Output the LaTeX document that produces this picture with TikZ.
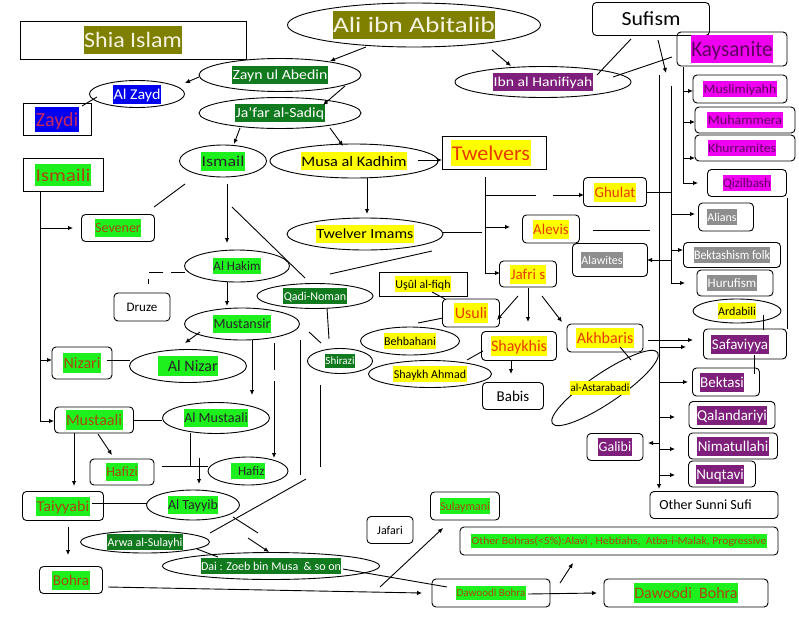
\documentclass[tikz,border=0pt]{standalone}
\usepackage{fontspec}
\usepackage{graphicx}
\setmainfont{Carlito}
\usetikzlibrary{shapes.geometric,arrows.meta}
\definecolor{olv}{HTML}{808000}
\definecolor{olvtx}{HTML}{F4F2E2}
\definecolor{dgr}{HTML}{127A1E}
\definecolor{lime}{HTML}{1EF01E}
\definecolor{brn}{HTML}{A8480E}
\definecolor{ylw}{HTML}{FFFF00}
\definecolor{rdt}{HTML}{E83A00}
\definecolor{prp}{HTML}{7E1F7C}
\definecolor{mgn}{HTML}{F000F0}
\definecolor{dpr}{HTML}{5E0060}
\definecolor{gry}{HTML}{8E8E8E}
\definecolor{blu}{HTML}{0000F0}
\definecolor{crm}{HTML}{C82860}
\newcommand{\hlt}[5][1]{{\fontsize{#2}{#2}\selectfont\setlength{\fboxsep}{0.5pt}\colorbox{#3}{\color{#4}\rule[-0.25em]{0pt}{1.2em}\scalebox{#1}[1]{#5}}}}
\newcommand{\OL}[3][1]{\hlt[#1]{#2}{olv}{olvtx}{#3}}
\newcommand{\DG}[3][1]{\hlt[#1]{#2}{dgr}{white}{#3}}
\newcommand{\BL}[3][1]{\hlt[#1]{#2}{blu}{white}{#3}}
\newcommand{\ZY}[3][1]{\hlt[#1]{#2}{blu}{crm}{#3}}
\newcommand{\LG}[3][1]{\hlt[#1]{#2}{lime}{black!85}{#3}}
\newcommand{\LB}[3][1]{\hlt[#1]{#2}{lime}{brn}{#3}}
\newcommand{\YB}[3][1]{\hlt[#1]{#2}{ylw}{black}{#3}}
\newcommand{\YR}[3][1]{\hlt[#1]{#2}{ylw}{rdt}{#3}}
\newcommand{\PW}[3][1]{\hlt[#1]{#2}{prp}{white}{#3}}
\newcommand{\MG}[3][1]{\hlt[#1]{#2}{mgn}{dpr}{#3}}
\newcommand{\GW}[3][1]{\hlt[#1]{#2}{gry}{white}{#3}}
\newcommand{\PL}[3][1]{{\fontsize{#2}{#2}\selectfont\scalebox{#1}[1]{#3}}}
\newcommand{\gap}[1]{\hspace*{#1}\null}
\begin{document}
\begin{tikzpicture}[x=1pt,y=-1pt,
  every path/.style={line width=0.9pt},
  rbox/.style={draw, rounded corners=4pt, inner sep=0pt, line width=0.9pt},
  sbox/.style={draw, inner sep=0pt, line width=0.9pt},
  ell/.style={draw, ellipse, inner sep=0pt, line width=0.9pt},
  ar/.style={-{Latex[length=5pt,width=4.5pt]}},
  dsh/.style={dash pattern=on 14pt off 8pt}]
\path[use as bounding box, fill=white] (0,0) rectangle (799,618);
% ---------- top ----------
\node[sbox, minimum width=226pt, minimum height=38pt] (shia) at (133,40) {\OL[1.09]{22}{Shia Islam}};
\node[ell, minimum width=253pt, minimum height=44pt] (ali) at (414,25) {\OL[1.25]{22}{Ali ibn Abitalib}};
\node[rbox, minimum width=117pt, minimum height=33pt] (sufism) at (651,19) {\PL[1.09]{20}{Sufism}};
\node[rbox, minimum width=110pt, minimum height=34pt] (kays) at (732,49) {\MG[0.96]{22}{Kaysanite}};
\node[ell, minimum width=176pt, minimum height=31pt] (hanif) at (543,82) {\PW[1.16]{13.5}{Ibn al Hanifiyah}};
\node[ell, minimum width=162pt, minimum height=33pt] (zayn) at (280,75) {\DG[1.13]{14}{Zayn ul Abedin}};
\node[ell, minimum width=95pt, minimum height=27pt] (alzayd) at (137,94) {\BL[1.07]{15}{Al Zayd}};
\node[sbox, minimum width=68pt, minimum height=32pt] (zaydi) at (57,119) {\ZY{20}{Zaydi}};
\node[ell, minimum width=162pt, minimum height=31pt] (jafar) at (280,113) {\DG[1.12]{14}{Ja'far al-Sadiq}};
\node[ell, minimum width=87pt, minimum height=32pt] (ismail) at (223,161) {\LG[1.2]{15}{Ismail}};
\node[ell, minimum width=168pt, minimum height=34pt] (musa) at (354,161) {\YB[1.12]{14.5}{Musa al Kadhim}};
\node[sbox, minimum width=104pt, minimum height=33pt] (twelvers) at (494,153) {\YR[1.05]{21}{Twelvers}\gap{6pt}};
\node[sbox, minimum width=80pt, minimum height=33pt] (ismaili) at (63,175) {\LB[1.17]{18}{Ismaili}};
\node[rbox, minimum width=73pt, minimum height=27pt] (sevener) at (118,228) {\LB{14}{Sevener}};
\node[ell, minimum width=156pt, minimum height=32pt] (ti) at (365,234) {\YB[1.13]{14}{Twelver Imams}};
% ---------- Ismaili middle ----------
\node[ell, minimum width=105pt, minimum height=32pt] (alhakim) at (237,266) {\LG{13}{Al Hakim}};
\node[rbox, minimum width=56pt, minimum height=28pt] (druze) at (142,307) {\PL{13}{Druze}};
\node[ell, minimum width=116pt, minimum height=25pt] (qadi) at (315,296) {\DG{12}{Qadi-Noman}};
\node[ell, minimum width=115pt, minimum height=32pt] (mustansir) at (242,324) {\LG{14}{Mustansir}};
\node[rbox, minimum width=60pt, minimum height=32pt] (nizari) at (82,363) {\LB{16}{Nizari}};
\node[ell, minimum width=117pt, minimum height=33pt] (alnizar) at (188,366) {\LG{16}{\hspace{0.6em}Al Nizar}};
\node[ell, minimum width=65pt, minimum height=25pt] (shirazi) at (340,361) {\DG{11}{Shirazi}};
% ---------- Twelver middle ----------
\node[rbox, minimum width=63pt, minimum height=29pt] (ghulat) at (615,192) {\YR{15}{Ghulat}};
\node[rbox, minimum width=57pt, minimum height=28pt] (alevis) at (551,229) {\YR{15}{Alevis}};
\node[rbox, minimum width=75pt, minimum height=33pt] (alawites) at (610,260) {\GW{12}{Alawites}\gap{16pt}};
\node[rbox, minimum width=57pt, minimum height=26pt] (jafri) at (528,274) {\YR{15}{Jafri s}};
\node[sbox, minimum width=88pt, minimum height=24pt] (usulfiqh) at (423,284) {\YB{12}{Uşûl al-fiqh}};
\node[rbox, minimum width=57pt, minimum height=28pt] (usuli) at (471,313) {\YR{16}{Usuli}};
\node[ell, minimum width=99pt, minimum height=28pt] (behb) at (410,341) {\YB{12}{Behbahani}};
\node[ell, minimum width=123pt, minimum height=27pt] (shahmad) at (430,374) {\YB{12}{Shaykh Ahmad}};
\node[rbox, minimum width=75pt, minimum height=29pt] (shaykhis) at (519,346) {\YR{16}{Shaykhis}};
\node[rbox, minimum width=61pt, minimum height=27pt] (babis) at (513,396) {\PL{15}{Babis}};
\node[rbox, minimum width=76pt, minimum height=28pt] (akhbaris) at (605,338) {\YR{16}{Akhbaris}};
\node[ell, minimum width=127pt, minimum height=30pt, rotate=34] (astar) at (605,388) {};
\node (astartx) at (600,388) {\YB{11}{al-Astarabadi}};
% ---------- right column ----------
\node[rbox, minimum width=94pt, minimum height=28pt] (musl) at (740,89) {\MG[1.07]{13}{Muslimiyahh}};
\node[rbox, minimum width=100pt, minimum height=26pt] (muham) at (745,120) {\MG[1.08]{13}{Muhammera}};
\node[rbox, minimum width=100pt, minimum height=26pt] (khurr) at (745,148) {\MG[1.09]{12.5}{Khurramites}\gap{6pt}};
\node[rbox, minimum width=79pt, minimum height=27pt] (qizil) at (747,183) {\MG{13}{Qizilbash}};
\node[rbox, minimum width=55pt, minimum height=28pt] (alians) at (726,217) {\GW{12}{Alians}\gap{8pt}};
\node[rbox, minimum width=97pt, minimum height=25pt] (bekfolk) at (732,255) {\GW[0.92]{13}{Bektashism folk}};
\node[rbox, minimum width=76pt, minimum height=26pt] (huruf) at (735,283) {\GW{13}{Hurufism}\gap{6pt}};
\node[ell, minimum width=88pt, minimum height=24pt] (ardabili) at (737,311) {\YB{12}{Ardabili}};
\node[rbox, minimum width=83pt, minimum height=30pt] (safav) at (745,344) {\PW{15}{Safaviyya}\gap{10pt}};
\node[rbox, minimum width=67pt, minimum height=28pt] (bektasi) at (726,382) {\PW{15}{Bektasi}\gap{8pt}};
\node[rbox, minimum width=86pt, minimum height=27pt] (qaland) at (732,415) {\PW{15}{Qalandariyi}};
\node[rbox, minimum width=89pt, minimum height=26pt] (nimat) at (733,446) {\PW{15}{Nimatullahi}};
\node[rbox, minimum width=67pt, minimum height=26pt] (nuqt) at (722,474) {\PW{15}{Nuqtavi}\gap{4pt}};
\node[rbox, minimum width=56pt, minimum height=27pt] (galibi) at (615,447) {\PW{14}{Galibi}};
\node[rbox, minimum width=128pt, minimum height=27pt] (othersufi) at (714,505) {\PL{14}{Other Sunni Sufi}\gap{17pt}};
% ---------- lower left ----------
\node[rbox, minimum width=79pt, minimum height=26pt] (mustaali) at (94,420) {\LB{16}{Mustaali}};
\node[ell, minimum width=107pt, minimum height=31pt] (almust) at (216,418) {\LG{14}{Al Mustaali}};
\node[rbox, minimum width=64pt, minimum height=26pt] (hafizi) at (122,472) {\LB{14}{Hafizi}};
\node[ell, minimum width=80pt, minimum height=28pt] (hafiz) at (248,471) {\LG{13}{\hspace{0.5em}Hafiz}};
\node[rbox, minimum width=81pt, minimum height=29pt] (taiyyabi) at (63,506) {\LB[1.08]{15}{Taiyyabi}};
\node[ell, minimum width=93pt, minimum height=30pt] (altayyib) at (193,505) {\LG{14}{Al Tayyib}};
\node[ell, minimum width=129pt, minimum height=22pt] (arwa) at (145,542) {\DG{12}{Arwa al-Sulayhi}};
\node[ell, minimum width=217pt, minimum height=27pt] (dai) at (271,566) {\DG{12}{Dai : Zoeb bin Musa \ \& so on}};
\node[rbox, minimum width=63pt, minimum height=27pt] (bohra) at (71,580) {\LB{15}{Bohra}};
\node[rbox, minimum width=46pt, minimum height=27pt] (jafari) at (390,530) {\PL{12}{Jafari}};
\node[rbox, minimum width=69pt, minimum height=28pt] (sulay) at (465,506) {\LB{12}{Sulaymani}};
\node[rbox, minimum width=318pt, minimum height=28pt] (otherb) at (619,541) {\LB[1.08]{10.8}{Other Bohras(<5\%):Alavi , Hebtiahs, \ Atba-i-Malak, Progressive}};
\node[rbox, minimum width=118pt, minimum height=28pt] (dbsmall) at (491,593) {\LB{11}{Dawoodi Bohra}};
\node[rbox, minimum width=164pt, minimum height=28pt] (dbbig) at (686,593) {\LB{16}{Dawoodi \ Bohra}};
% ---------- connectors: top ----------
\draw[ar] (366,47) -- (330,61);
\draw[ar] (492,50) -- (511,66);
\draw[ar] (199,77) -- (185,83);
\draw[ar] (345,86) -- (323,105);
\draw (97,97) -- (82,106);
\draw[ar] (240,128) -- (234,144);
\draw[ar] (330,128) -- (343,146);
\draw[ar] (418,160) -- (442,160);
\draw[ar] (367,178) -- (367,214);
\draw (631,39) -- (597,75);
\draw (672,57) -- (613,77);
\draw[ar] (658,40) -- (666,73);
% ---------- right verticals ----------
\draw[ar] (659,75) -- (659,489);
\draw (671,86) -- (671,283);
\draw[ar] (683,67) -- (683,183) -- (698,183);
\draw[ar] (683,91) -- (693,91);
\draw[ar] (683,122) -- (695,122);
\draw[ar] (683,158) -- (695,158);
\draw (647,192) -- (671,192);
\draw[ar] (671,214) -- (695,214);
\draw[ar] (671,250) -- (683,250);
\draw[ar] (671,260) -- (647,260);
\draw[ar] (671,283) -- (685,283);
\draw (593,230) -- (650,230);
\draw (787,198) -- (787,329);
\draw (763,315) -- (763,330);
\draw (754,355) -- (754,374);
\draw[ar] (648,340) -- (693,340);
\draw[ar] (660,347) -- (686,347);
\draw[ar] (659,382) -- (688,382);
\draw[ar] (659,417) -- (675,417);
\draw[ar] (659,443) -- (648,443);
\draw[ar] (659,449) -- (675,449);
\draw[ar] (659,475) -- (675,475);
% ---------- twelvers ----------
\draw[ar] (485,177) -- (485,273) -- (500,273);
\draw (485,195) -- (536,195);
\draw[ar] (553,195) -- (584,195);
\draw[ar] (485,227) -- (510,227);
\draw (443,232) -- (482,232);
\draw (432,251) -- (330,274);
\draw[ar] (518,296) -- (497,320);
\draw[ar] (528,288) -- (528,322);
\draw[ar] (542,296) -- (562,322);
\draw (432,292) -- (445,299);
\draw (443,318) -- (418,323);
\draw (483,351) -- (467,360);
\draw[ar] (511,361) -- (511,374);
\draw (620,347) -- (631,360);
% ---------- ismaili ----------
\draw[ar] (40,192) -- (40,421) -- (54,421);
\draw[ar] (40,228) -- (73,228);
\draw[ar] (40,360) -- (52,360);
\draw (154,207) -- (185,184);
\draw[ar] (227,184) -- (227,243);
\draw (232,207) -- (305,278);
\draw[dsh] (185,272) -- (148,272) -- (148,284);
\draw[ar] (227,282) -- (227,306);
\draw[ar] (200,332) -- (185,343);
\draw (107,360) -- (130,360);
\draw[ar] (252,340) -- (252,395);
\draw (274,343) -- (274,370);
\draw[ar] (274,381) -- (274,458);
\draw (300,340) -- (300,475);
\draw (306,479) -- (210,533);
\draw (320,385) -- (320,467);
\draw (327,308) -- (329,339);
\draw (309,332) -- (321,343);
% ---------- lower left ----------
\draw (133,420) -- (162,420);
\draw[ar] (98,434) -- (112,455);
\draw[ar] (74,433) -- (74,486);
\draw (190,433) -- (190,466);
\draw[ar] (199,458) -- (199,484);
\draw (162,466) -- (208,466);
\draw (92,503) -- (147,503);
\draw (233,517) -- (258,533);
\draw[ar] (248,538) -- (269,552);
\draw[ar] (68,527) -- (68,555);
\draw (197,549) -- (218,557);
\draw[ar] (108,587) -- (422,593);
\draw (343,569) -- (447,587);
\draw[ar] (380,587) -- (443,528);
\draw[ar] (560,583) -- (573,563);
\draw[ar] (528,594) -- (597,593);
\end{tikzpicture}
\end{document}
